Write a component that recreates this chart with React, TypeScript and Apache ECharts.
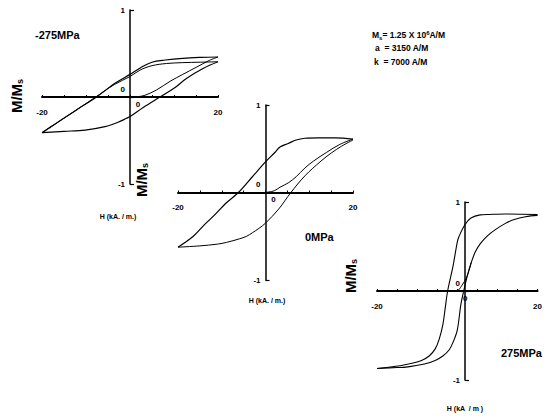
import React, { useEffect, useRef } from "react";
import * as echarts from "echarts";

// ---------- data: hysteresis curves, [H (kA/m), M/Ms] ----------
// Panel 1: -275 MPa
const P1_INIT: number[][] = [[0, 0], [2, 0.005], [3.4, 0.02], [6, 0.08], [9.1, 0.18], [12, 0.26], [15, 0.34], [18, 0.42], [20, 0.46]];
const P1_DESC_OUTER: number[][] = [[20, 0.46], [16, 0.455], [12, 0.445], [8, 0.425], [5, 0.4], [2.5, 0.34], [0, 0.26], [-3.5, 0.155], [-7.6, 0], [-11, -0.11], [-14, -0.21], [-17, -0.31], [-20, -0.41]];
const P1_DESC_INNER: number[][] = [[20, 0.405], [16, 0.4], [12, 0.395], [8.3, 0.385], [5, 0.36], [2.3, 0.31], [0, 0.235], [-3.5, 0.145], [-7.8, 0], [-14, -0.21], [-20, -0.41]];
const P1_ASC: number[][] = [[-20, -0.41], [-15, -0.395], [-10.2, -0.38], [-5.7, -0.34], [-2.7, -0.29], [-0.8, -0.245], [0, -0.225], [3, -0.12], [6.8, 0], [10, 0.1], [12.9, 0.215], [16.7, 0.33], [20, 0.405]];

// Panel 2: 0 MPa
const P2_INIT: number[][] = [[0, 0], [2, 0.02], [3.3, 0.06], [5.2, 0.11], [7, 0.18], [9, 0.28], [11, 0.36], [14, 0.46], [17, 0.55], [20, 0.61]];
const P2_DESC: number[][] = [[20, 0.61], [16, 0.625], [12, 0.625], [9, 0.62], [7, 0.6], [5.2, 0.56], [3.3, 0.52], [2.2, 0.46], [0, 0.35], [-3, 0.18], [-6.2, 0], [-9, -0.12], [-11.5, -0.25], [-14, -0.37], [-16.5, -0.5], [-20, -0.625]];
const P2_ASC: number[][] = [[-20, -0.625], [-15, -0.61], [-11, -0.59], [-8.9, -0.57], [-6, -0.53], [-4.3, -0.5], [-3, -0.46], [-1.5, -0.41], [0, -0.35], [3, -0.19], [5.8, 0], [9, 0.19], [12.7, 0.36], [15, 0.45], [17.4, 0.53], [20, 0.6]];

// Panel 3: 275 MPa
const P3_INIT: number[][] = [[0, 0], [0.5, 0.02], [1.1, 0.06], [2.3, 0.15], [3.5, 0.32]];
const P3_DESC: number[][] = [[20, 0.86], [12, 0.865], [8, 0.86], [5.7, 0.855], [3.4, 0.82], [1.9, 0.745], [0.4, 0.61], [0, 0.55], [-1.1, 0.27], [-2.4, 0], [-3, -0.19], [-3.6, -0.38], [-4.5, -0.54], [-5.5, -0.65], [-7, -0.73], [-8.9, -0.78], [-11, -0.81], [-14.2, -0.84], [-20, -0.87]];
const P3_ASC: number[][] = [[-20, -0.87], [-15, -0.86], [-12.8, -0.855], [-8.2, -0.82], [-5.5, -0.78], [-3.6, -0.73], [-2, -0.66], [-1, -0.57], [0, -0.44], [0.9, -0.15], [1.6, 0], [2.5, 0.17], [3.4, 0.31], [4.5, 0.44], [5.7, 0.53], [7.5, 0.62], [9.5, 0.69], [12, 0.76], [14, 0.8], [17, 0.835], [20, 0.85]];

const X_MIN = -20, X_MAX = 20, X_STEP = 5;
const Y_MIN = -1, Y_MAX = 1, Y_STEP = 1;

const PANEL_LABELS = ["-275MPa", "0MPa", "275MPa"];
const PARAM_LINES = ["{n|M}{sub|s}{n|= 1.25 X 10}{sup|6}{n|A/M}", "{n|a  = 3150 A/M}", "{n|k  = 7000 A/M}"];

const FONT = "'Liberation Sans', Arial, sans-serif";

export default function App() {
  const ref = useRef<HTMLDivElement>(null);
  useEffect(() => {
    if (!ref.current) return;
    const chart = echarts.init(ref.current, null, { renderer: "svg" });

    const grids = [
      { left: 42, top: 10, width: 176, height: 174 },
      { left: 178, top: 105, width: 175, height: 175 },
      { left: 377, top: 202, width: 176, height: 178 },
    ];

    const xAxes = grids.map((g, i) => ({
      type: "value",
      gridIndex: i,
      position: "bottom",
      offset: -g.height / 2,
      min: X_MIN,
      max: X_MAX,
      interval: X_STEP,
      axisLine: { onZero: false, lineStyle: { color: "#000", width: 2 } },
      axisTick: { show: true, inside: true, length: 2, lineStyle: { color: "#000", width: 1 } },
      splitLine: { show: false },
      axisLabel: {
        margin: 3,
        color: "#000",
        fontSize: 8,
        fontWeight: "bold",
        fontFamily: FONT,
        showMinLabel: true,
        showMaxLabel: true,
        formatter: (v: number) => (v === X_MIN || v === X_MAX ? `{e|${v}}` : v === 0 ? "{z|0}" : ""),
        rich: {
          e: { padding: [8, 0, 0, 0], fontSize: 8, fontWeight: "bold", fontFamily: FONT, color: "#000" },
          z: { padding: [0, 0, 0, 16], fontSize: 8, fontWeight: "bold", fontFamily: FONT, color: "#000" },
        },
      },
    }));

    const yAxes = grids.map((g, i) => ({
      type: "value",
      gridIndex: i,
      position: "left",
      offset: -g.width / 2,
      min: Y_MIN,
      max: Y_MAX,
      interval: Y_STEP,
      axisLine: { onZero: false, lineStyle: { color: "#000", width: 1.5 } },
      axisTick: { show: true, inside: true, length: 4, lineStyle: { color: "#000", width: 1.2 } },
      splitLine: { show: false },
      axisLabel: {
        margin: 5,
        color: "#000",
        fontSize: 8,
        fontWeight: "bold",
        fontFamily: FONT,
        formatter: (v: number) => (v === 0 ? "{z|0}" : `${v}`),
        rich: {
          z: { padding: [0, 0, 16, 0], fontSize: 8, fontWeight: "bold", fontFamily: FONT, color: "#000" },
        },
      },
    }));

    const curves: [number, number[][], number][] = [
      [0, P1_INIT, 1], [0, P1_DESC_OUTER, 1.2], [0, P1_DESC_INNER, 1], [0, P1_ASC, 1.2],
      [1, P2_INIT, 1], [1, P2_DESC, 1.2], [1, P2_ASC, 1],
      [2, P3_INIT, 1], [2, P3_DESC, 1.1], [2, P3_ASC, 1.1],
    ];

    const series = curves.map(([g, data, w]) => ({
      type: "line",
      xAxisIndex: g,
      yAxisIndex: g,
      data,
      showSymbol: false,
      smooth: 0.35,
      lineStyle: { color: "#000", width: w },
      silent: true,
    }));

    const mmRich = {
      b: { fontSize: 15, fontWeight: "bold", fontFamily: FONT, color: "#000" },
      s: { fontSize: 9, fontWeight: "bold", fontFamily: FONT, color: "#000", padding: [8, 0, 0, 0] },
    };
    const mmPos = [[16, 96], [141, 180], [350, 276]];
    const hPos = [[118, 216], [267, 300], [465, 408]];
    const hTexts = ["H (kA. / m.)", "H (kA. / m.)", "H (kA  / m )"];
    const pPos = [[35, 35, "left"], [305, 237, "left"], [501, 353, "left"]];

    const graphic: any[] = [];
    mmPos.forEach(([x, y]) =>
      graphic.push({
        type: "text",
        x,
        y,
        rotation: Math.PI / 2,
        style: { text: "{b|M/M}{s|s}", rich: mmRich, align: "center", verticalAlign: "middle" },
      })
    );
    hPos.forEach(([x, y], i) =>
      graphic.push({
        type: "text",
        x,
        y,
        style: { text: hTexts[i], fontSize: 7, fontWeight: "bold", fontFamily: FONT, fill: "#000", align: "center", verticalAlign: "middle" },
      })
    );
    pPos.forEach(([x, y, a], i) =>
      graphic.push({
        type: "text",
        x,
        y,
        style: { text: PANEL_LABELS[i], fontSize: 11, fontWeight: "bold", fontFamily: FONT, fill: "#000", align: a, verticalAlign: "middle" },
      })
    );
    const paramRich = {
      n: { fontSize: 8.5, fontWeight: "bold", fontFamily: FONT, color: "#000" },
      sub: { fontSize: 6, fontWeight: "bold", fontFamily: FONT, color: "#000", padding: [5, 0, 0, 0] },
      sup: { fontSize: 6, fontWeight: "bold", fontFamily: FONT, color: "#000", padding: [0, 0, 5, 0] },
    };
    const paramPos = [[372, 35], [375, 48], [374, 62]];
    paramPos.forEach(([x, y], i) =>
      graphic.push({
        type: "text",
        x,
        y,
        style: { text: PARAM_LINES[i], rich: paramRich, align: "left", verticalAlign: "middle" },
      })
    );

    chart.setOption({
      animation: false,
      backgroundColor: "#fff",
      grid: grids.map((g) => ({ ...g, containLabel: false })),
      xAxis: xAxes,
      yAxis: yAxes,
      series,
      graphic,
    });
    return () => chart.dispose();
  }, []);

  return <div ref={ref} style={{ position: "fixed", left: 0, top: 0, width: 545, height: 416, background: "#fff" }} />;
}
